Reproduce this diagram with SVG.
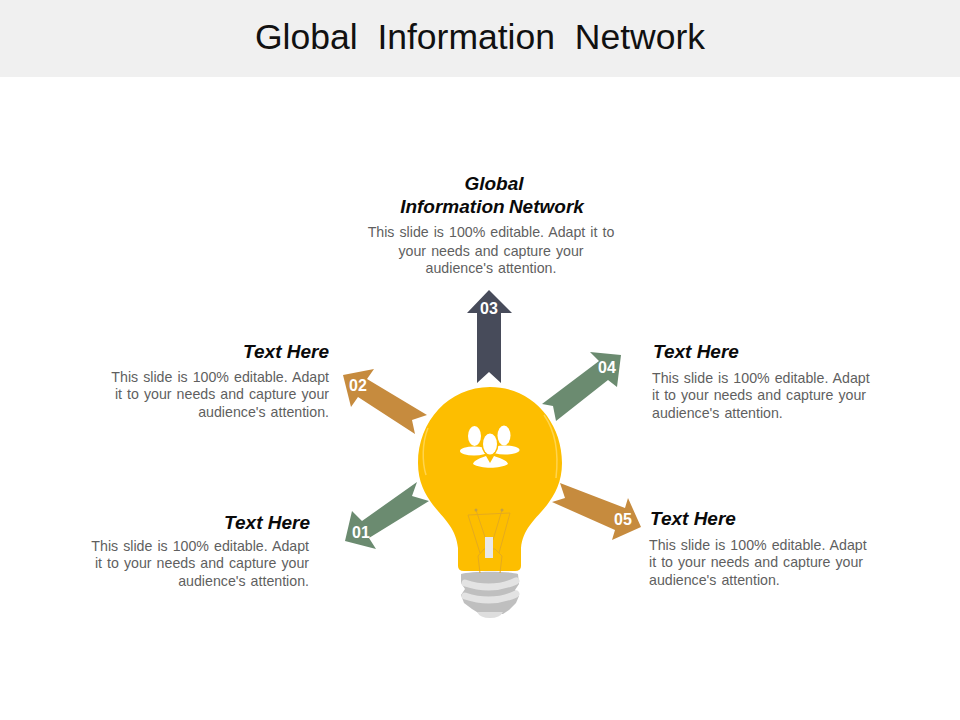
<svg xmlns="http://www.w3.org/2000/svg" width="960" height="720" viewBox="0 0 960 720">
<style>
text{font-family:"Liberation Sans",Arial,sans-serif}
.t{font-size:35.5px;fill:#111;text-anchor:middle;word-spacing:10px}
.h{font-size:19px;font-weight:bold;font-style:italic;fill:#0a0a0a}
.b{font-size:14.2px;fill:#5f5f5f;word-spacing:1.1px}
.n{font-size:16px;font-weight:bold;fill:#fff;text-anchor:middle}
.e{text-anchor:end}.m{text-anchor:middle}
.g{fill:#6b8b70}.o{fill:#c68b3e}
.l{fill:none;stroke:#e3e3e3;stroke-width:7;stroke-linecap:round}
</style>
<rect width="960" height="720" fill="#fff"/>
<rect id="banner" width="960" height="77" fill="#f0f0f0"/>
<text class="t" x="480" y="49">Global Information Network</text>
<g id="connectors">
<polygon class="g" points="345,541 352,511 362,521 417,482 412,496 429,501 369,538 376,549"/>
<polygon class="o" points="343,375 374,369 367,379 427,415 412,420 415,434 358,397 351,407"/>
<polygon fill="#474b5a" points="489,290 512,313 501,313 501,383 489,372 477,383 477,313 467,313"/>
<polygon class="g" points="621,355 590,352 599,361 542,404 553,406 556,421 608,380 617,387"/>
<polygon class="o" points="641,527 628,498 625,508 560,483 565,498 552,502 615,530 612,540"/>
</g>
<g id="bulb">
<path d="M461,574C470,571 510,571 518,574L519,584L515,590L519,596L516,603L509,610L503,614L480,614L472,609L464,603L461,595L465,589L461,583Z" fill="#bfbfbf"/>
<path class="l" d="M465,583Q492,592 516,581"/>
<path class="l" d="M465,596Q492,605 516,594"/>
<path d="M477,612L503,612Q500,618 490,618Q480,618 477,612Z" fill="#dedede"/>
<path d="M490,387C449,387 418,421 418,463C418,482 425,494 433,505C444,519 456,528 458,548L458,566Q458,571 464,571L515,571Q521,571 521,566L521,548C523,528 536,519 547,505C555,494 562,482 562,463C562,421 531,387 490,387Z" fill="#fdbe00"/>
<path d="M428,428C422,443 422,462 426,475" fill="none" stroke="#ffd44d" stroke-width="1.500"/>
<path d="M544,415C556,432 559,452 556,478" fill="none" stroke="#ffd44d" stroke-width="1.500"/>
<g fill="none" stroke="#e5ab1e" stroke-width="1">
<path d="M468,515L510,513M468,515L480,553M510,513L499,553M476,510L486,540M502,510L493,540"/>
<path d="M480,573L478,556L484,549L495,549L502,556L500,573"/>
</g>
<circle cx="476" cy="510" r="1.500" fill="#c9a23e"/><circle cx="502" cy="510" r="1.500" fill="#c9a23e"/>
<rect x="485" y="537" width="8" height="21" fill="#e8e8e8"/>
</g>
<g id="people" fill="#fff">
<ellipse cx="474.500" cy="436" rx="6.500" ry="10"/>
<ellipse cx="504" cy="435.500" rx="6.500" ry="10"/>
<ellipse cx="474" cy="451" rx="14" ry="4.500"/>
<ellipse cx="505" cy="450" rx="14.500" ry="4.500"/>
<ellipse cx="490" cy="444" rx="8.500" ry="12" fill="#fdbe00"/>
<path d="M471,464C473,461 478,459 482,457L495,456C501,458 506,461 508,464C500,469 481,469 471,464Z" fill="#fdbe00" stroke="#fdbe00" stroke-width="2"/>
<ellipse cx="490" cy="444" rx="7" ry="10.500"/>
<path d="M473,464C474,460 481,458 486,456L490,463L494,456C499,458 507,460 508,464C500,469 481,469 473,464Z"/>
</g>
<g id="n1"><text class="n" x="361" y="538">01</text>
<text class="h e" x="310" y="529">Text Here</text>
<text class="b e" x="309" y="551">This slide is 100% editable. Adapt</text>
<text class="b e" x="309" y="568">it to your needs and capture your</text>
<text class="b e" x="309" y="586">audience's attention.</text></g>
<g id="n2"><text class="n" x="358" y="391">02</text>
<text class="h e" x="329" y="358">Text Here</text>
<text class="b e" x="329" y="382">This slide is 100% editable. Adapt</text>
<text class="b e" x="329" y="399">it to your needs and capture your</text>
<text class="b e" x="329" y="417">audience's attention.</text></g>
<g id="n3"><text class="n" x="489" y="314">03</text>
<text class="h m" x="494" y="190">Global</text>
<text class="h m" x="492" y="213" word-spacing="-1">Information Network</text>
<text class="b m" x="491" y="237">This slide is 100% editable. Adapt it to</text>
<text class="b m" x="491" y="256">your needs and capture your</text>
<text class="b m" x="491" y="273">audience's attention.</text></g>
<g id="n4"><text class="n" x="607" y="373">04</text>
<text class="h" x="653" y="358">Text Here</text>
<text class="b" x="652" y="383">This slide is 100% editable. Adapt</text>
<text class="b" x="652" y="400">it to your needs and capture your</text>
<text class="b" x="652" y="418">audience's attention.</text></g>
<g id="n5"><text class="n" x="623" y="525">05</text>
<text class="h" x="650" y="525">Text Here</text>
<text class="b" x="649" y="550">This slide is 100% editable. Adapt</text>
<text class="b" x="649" y="567">it to your needs and capture your</text>
<text class="b" x="649" y="585">audience's attention.</text></g>
</svg>
